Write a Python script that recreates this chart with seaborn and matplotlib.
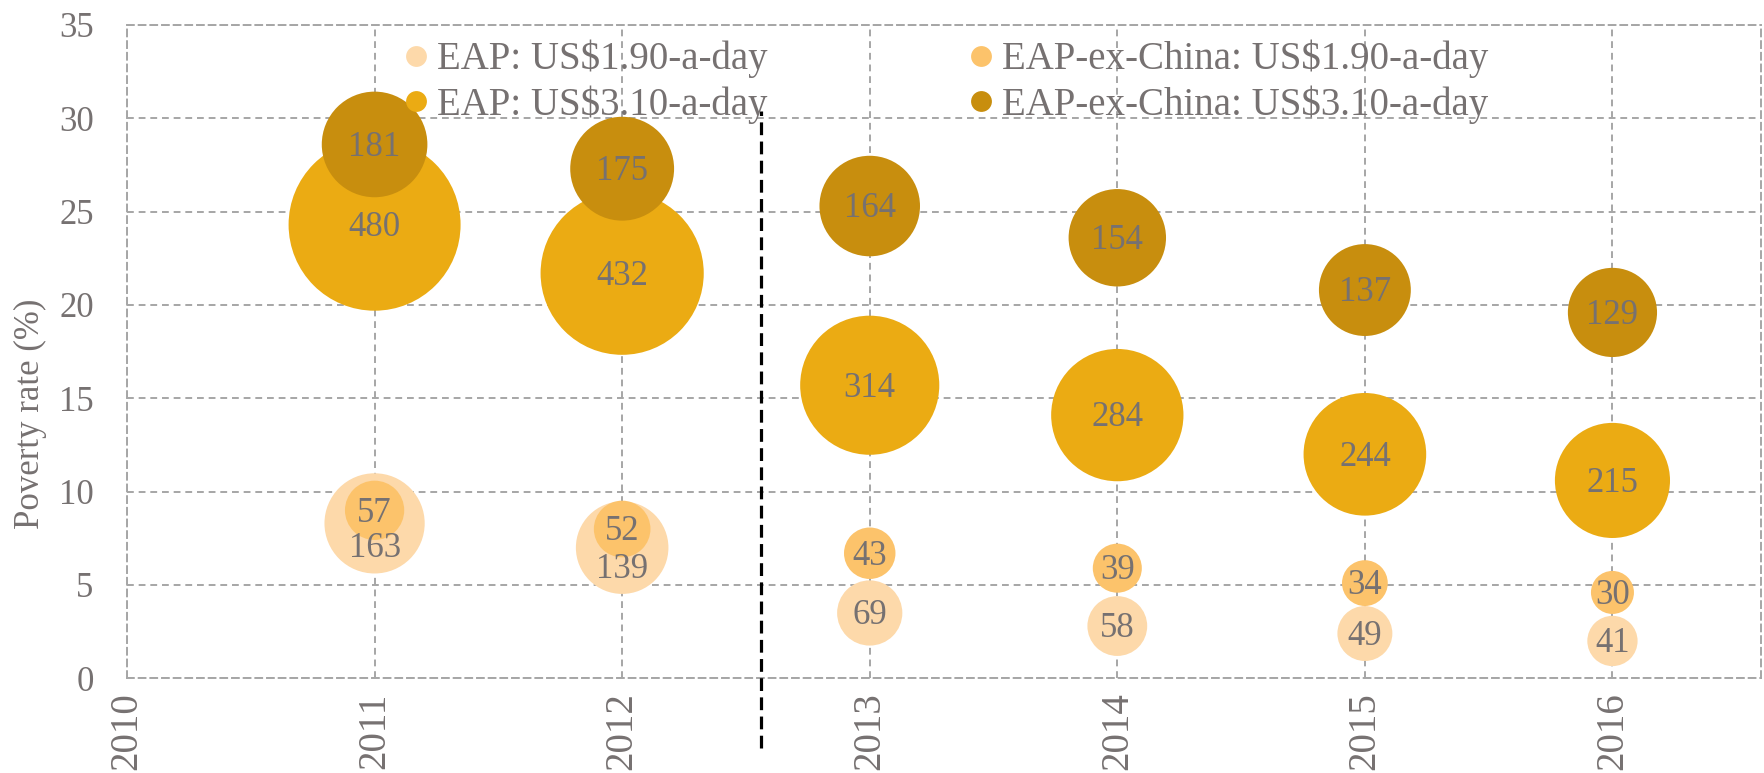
import pandas as pd
import seaborn as sns
import matplotlib.pyplot as plt
from matplotlib.lines import Line2D

###
### DATA
###

years = [2011, 2012, 2013, 2014, 2015, 2016]

# poverty rate (%) and number of poor (millions) per series
eap_190_rate = [8.3, 7.0, 3.5, 2.8, 2.4, 2.0]
eap_190_poor = [163, 139, 69, 58, 49, 41]

eap_310_rate = [24.3, 21.7, 15.7, 14.1, 12.0, 10.6]
eap_310_poor = [480, 432, 314, 284, 244, 215]

exchina_190_rate = [9.0, 8.0, 6.7, 5.9, 5.1, 4.6]
exchina_190_poor = [57, 52, 43, 39, 34, 30]

exchina_310_rate = [28.6, 27.3, 25.3, 23.6, 20.8, 19.6]
exchina_310_poor = [181, 175, 164, 154, 137, 129]

series_names = ['EAP: US$1.90-a-day', 'EAP: US$3.10-a-day',
                'EAP-ex-China: US$1.90-a-day', 'EAP-ex-China: US$3.10-a-day']
series_rates = [eap_190_rate, eap_310_rate, exchina_190_rate, exchina_310_rate]
series_poor = [eap_190_poor, eap_310_poor, exchina_190_poor, exchina_310_poor]
series_colors = ['#FDD9AA', '#EBAB13', '#FCC36B', '#C88E0E']

y_ticks = [0, 5, 10, 15, 20, 25, 30, 35]
x_ticks = [2010, 2011, 2012, 2013, 2014, 2015, 2016]

# projection break marker
break_year = 2012.56

###
### STYLE
###

sns.set_theme(style='white')
plt.rcParams['font.family'] = ['Liberation Serif', 'DejaVu Serif']
text_gray = '#767171'
grid_gray = '#A6A6A6'
grid_dash = (0, (3.5, 2.5))

fig = plt.figure(figsize=(17.64, 7.73), dpi=100)
ax = fig.add_axes([0.072, 0.1225, 0.9263, 0.8452])

# bubble area proportional to number of poor
area_per_million = 31.95
max_poor = 480

for name, rates, poor, col in zip(series_names, series_rates, series_poor, series_colors):
    df = pd.DataFrame({'year': years, 'rate': rates, 'poor': poor})
    sns.scatterplot(data=df, x='year', y='rate', size='poor',
                    sizes=(0, area_per_million * max_poor), size_norm=(0, max_poor),
                    color=col, linewidth=0, alpha=1, legend=False, ax=ax, zorder=3)

# labels inside bubbles (Excel pushed a few down to avoid overlap)
nudge = {(0, 2011): -1.2, (0, 2012): -1.0}
for i, (rates, poor) in enumerate(zip(series_rates, series_poor)):
    for yr, r, p in zip(years, rates, poor):
        ax.text(yr, r + nudge.get((i, yr), 0) - 0.15, str(p), ha='center', va='center',
                fontsize=25, color=text_gray, zorder=5)

# dashed black divider
ax.plot([break_year, break_year], [-3.73, 30.4], color='black', lw=2.3,
        linestyle=(0, (4, 2)), clip_on=False, zorder=4)

ax.set_xlim(2010, 2016.6)
ax.set_ylim(0, 35)
ax.set_xticks(x_ticks)
ax.set_yticks(y_ticks)
ax.set_xticklabels([str(t) for t in x_ticks], rotation=90)
ax.tick_params(axis='both', length=0, colors=text_gray)
ax.tick_params(axis='y', pad=24, labelsize=25)
ax.tick_params(axis='x', pad=10, labelsize=28)
ax.grid(True, color=grid_gray, linestyle=grid_dash, lw=1.4, zorder=0)
ax.set_axisbelow(True)
for sp in ax.spines.values():
    sp.set_color(grid_gray)
    sp.set_linestyle(grid_dash)
    sp.set_linewidth(1.4)

ax.set_xlabel('')
ax.set_ylabel('Poverty rate (%)', fontsize=25, color=text_gray)
ax.yaxis.set_label_coords(-0.049, 0.405)

handles = [Line2D([], [], marker='o', linestyle='none', markersize=15,
                  markerfacecolor=c, markeredgewidth=0) for c in series_colors]
leg = ax.legend(handles, series_names, ncol=2, loc='upper left',
                bbox_to_anchor=(0.1674, 0.977), frameon=False, fontsize=28,
                handlelength=0.8, handletextpad=0.14, labelspacing=0.17,
                columnspacing=5.1, borderpad=0, borderaxespad=0)
for t in leg.get_texts():
    t.set_color(text_gray)
leg.set_zorder(6)

plt.savefig('out.png', dpi=100)
